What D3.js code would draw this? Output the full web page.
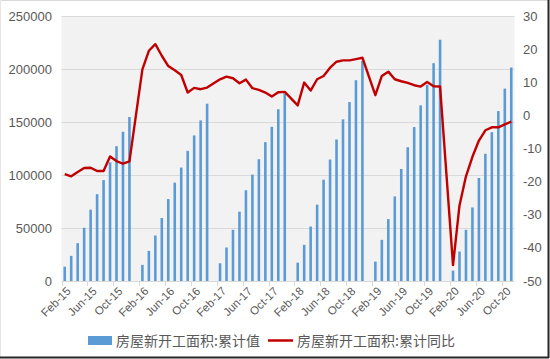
<!DOCTYPE html>
<html><head><meta charset="utf-8">
<script src="https://cdn.jsdelivr.net/npm/d3@7/dist/d3.min.js"></script>
<style>
html,body{margin:0;padding:0;background:#fff;}
svg{display:block;}
</style></head>
<body>
<svg id="chart" width="550" height="359"></svg>
<script>
// Month categories Feb-15 .. Nov-20 (January slots kept empty)
const categories = [
 "Feb-15","Mar-15","Apr-15","May-15","Jun-15","Jul-15","Aug-15","Sep-15","Oct-15","Nov-15","Dec-15",
 "Jan-16","Feb-16","Mar-16","Apr-16","May-16","Jun-16","Jul-16","Aug-16","Sep-16","Oct-16","Nov-16","Dec-16",
 "Jan-17","Feb-17","Mar-17","Apr-17","May-17","Jun-17","Jul-17","Aug-17","Sep-17","Oct-17","Nov-17","Dec-17",
 "Jan-18","Feb-18","Mar-18","Apr-18","May-18","Jun-18","Jul-18","Aug-18","Sep-18","Oct-18","Nov-18","Dec-18",
 "Jan-19","Feb-19","Mar-19","Apr-19","May-19","Jun-19","Jul-19","Aug-19","Sep-19","Oct-19","Nov-19","Dec-19",
 "Jan-20","Feb-20","Mar-20","Apr-20","May-20","Jun-20","Jul-20","Aug-20","Sep-20","Oct-20","Nov-20"
];
// 房屋新开工面积:累计值
const areaCumulative = [
 13500,23700,35700,50200,67300,81900,95200,112000,127200,140800,154700,
 null,15200,28400,42900,59400,77300,92800,107000,122800,137300,151500,167300,
 null,16700,31600,48300,65400,85600,100400,114900,131000,145500,162000,176800,
 null,17300,34100,51400,72000,95600,114600,133500,152500,168800,189400,207700,
 null,18300,38800,58400,79800,105700,126200,145200,165700,185000,205500,227600,
 null,9800,27800,48300,69400,97200,120000,140400,160300,181500,201400
];
// 房屋新开工面积:累计同比
const yoyCumulative = [
 -17.7,-18.4,-17.1,-15.9,-15.8,-16.8,-16.8,-12.4,-13.8,-14.6,-13.9,
 null,13.9,19.5,21.5,18.0,14.9,13.6,12.2,6.9,8.3,7.9,8.4,
 null,10.9,11.7,11.2,9.7,10.8,8.2,7.7,6.9,5.7,7.0,7.1,
 null,3.0,9.9,7.5,10.9,11.9,14.4,16.2,16.6,16.6,17.0,17.4,
 null,6.1,11.9,13.2,10.9,10.3,9.8,9.1,8.7,10.1,8.8,8.7,
 null,-45.2,-27.2,-18.4,-12.5,-7.6,-4.5,-3.6,-3.6,-2.7,-1.9
];
const leftTicks = [0,50000,100000,150000,200000,250000];
const rightTicks = [-50,-40,-30,-20,-10,0,10,20,30];
const xTickLabels = categories.filter((d,i)=>i%4===0);
const seriesNames = ["房屋新开工面积:累计值","房屋新开工面积:累计同比"];

const svg = d3.select("#chart");
const W=550,H=359;
const m={left:61.5,right:514.5,top:16,bottom:281};
const gray="#595959";
const font="'Liberation Sans', Arial, sans-serif";

// frame
svg.append("rect").attr("x",0).attr("y",0).attr("width",W).attr("height",H).attr("fill","#fff");
svg.append("line").attr("x1",0).attr("x2",549).attr("y1",0.5).attr("y2",0.5).attr("stroke","#d9d9d9");
svg.append("line").attr("x1",0.5).attr("x2",0.5).attr("y1",0).attr("y2",358).attr("stroke","#e6e6e6");
svg.append("line").attr("x1",0).attr("x2",549).attr("y1",357.5).attr("y2",357.5).attr("stroke","#262626").attr("stroke-width",2);
svg.append("line").attr("x1",548.5).attr("x2",548.5).attr("y1",0).attr("y2",358).attr("stroke","#262626").attr("stroke-width",2);

const x = d3.scaleBand().domain(d3.range(categories.length)).range([m.left,m.right]).paddingInner(0.6).paddingOuter(0.3);
const yL = d3.scaleLinear().domain([0,250000]).range([m.bottom,m.top]);
const yR = d3.scaleLinear().domain([-50,30]).range([m.bottom,m.top]);

// plot background
svg.append("rect").attr("x",m.left).attr("y",m.top).attr("width",m.right-m.left).attr("height",m.bottom-m.top).attr("fill","#f2f2f2");

// gridlines
svg.append("g").selectAll("line").data(leftTicks.filter(d=>d>0)).join("line")
 .attr("x1",m.left).attr("x2",m.right).attr("y1",d=>Math.round(yL(d))+0.5).attr("y2",d=>Math.round(yL(d))+0.5)
 .attr("stroke","#d9d9d9").attr("stroke-width",1);

// bars
const cx = i => x(i)+x.bandwidth()/2;
svg.append("g").selectAll("rect").data(areaCumulative.map((v,i)=>({v,i})).filter(d=>d.v!=null)).join("rect")
 .attr("x",d=>x(d.i)).attr("width",x.bandwidth())
 .attr("y",d=>yL(d.v)).attr("height",d=>yL(0)-yL(d.v))
 .attr("fill","#5b9bd5");

// x axis line and ticks
svg.append("line").attr("x1",m.left).attr("x2",m.right).attr("y1",m.bottom+0.5).attr("y2",m.bottom+0.5).attr("stroke","#d9d9d9");
const step = x.step();
svg.append("g").selectAll("line").data(d3.range(0,categories.length+1,4)).join("line")
 .attr("x1",i=>Math.round(m.left+ (i===0?0: i*step))+0.5).attr("x2",i=>Math.round(m.left+(i===0?0:i*step))+0.5)
 .attr("y1",m.bottom).attr("y2",m.bottom+5).attr("stroke","#d9d9d9");

// line
const pts = yoyCumulative.map((v,i)=>({v,i})).filter(d=>d.v!=null);
svg.append("path").datum(pts)
 .attr("d",d3.line().x(d=>cx(d.i)).y(d=>yR(d.v)))
 .attr("fill","none").attr("stroke","#c00000").attr("stroke-width",2.4).attr("stroke-linejoin","round");

// left axis labels
svg.append("g").selectAll("text").data(leftTicks).join("text")
 .attr("x",52).attr("y",d=>yL(d)).attr("dy","0.35em").attr("text-anchor","end")
 .attr("font-family",font).attr("font-size",13).attr("fill",gray).text(d=>d);
// right axis labels
svg.append("g").selectAll("text").data(rightTicks).join("text")
 .attr("x",523).attr("y",d=>yR(d)).attr("dy","0.35em").attr("text-anchor","start")
 .attr("font-family",font).attr("font-size",13).attr("fill",gray).text(d=>d);

// x labels
svg.append("g").selectAll("text").data(xTickLabels).join("text")
 .attr("transform",(d)=>{const i=categories.indexOf(d);return `translate(${cx(i)+4},${m.bottom+8}) rotate(-45)`;})
 .attr("text-anchor","end").attr("dy","0.35em")
 .attr("font-family",font).attr("font-size",11.5).attr("fill",gray).text(d=>d);

// legend
const lg = svg.append("g");
lg.append("rect").attr("x",88).attr("y",336).attr("width",24).attr("height",9).attr("fill","#5b9bd5");
lg.append("text").attr("x",116).attr("y",341).attr("dy","0.35em").attr("font-family","'Noto Sans CJK SC', sans-serif")
 .attr("font-size",14).attr("fill",gray).text(seriesNames[0]);
lg.append("line").attr("x1",268).attr("x2",293).attr("y1",340.5).attr("y2",340.5).attr("stroke","#c00000").attr("stroke-width",2.5);
lg.append("text").attr("x",297).attr("y",341).attr("dy","0.35em").attr("font-family","'Noto Sans CJK SC', sans-serif")
 .attr("font-size",14).attr("fill",gray).text(seriesNames[1]);
</script>
</body></html>
